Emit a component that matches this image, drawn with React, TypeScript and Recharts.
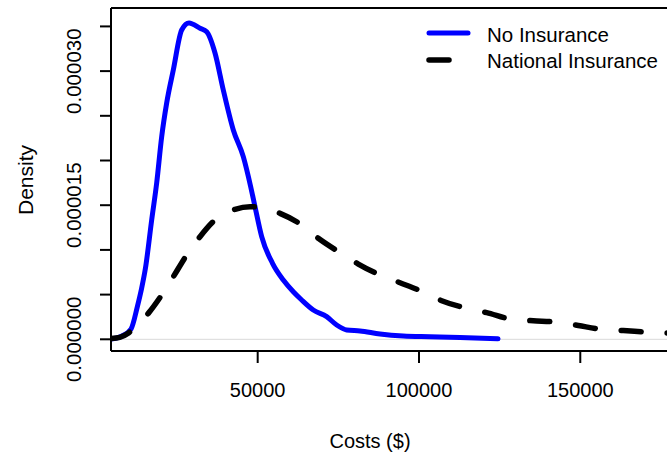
import {
  LineChart,
  Line,
  XAxis,
  YAxis,
  ReferenceLine,
} from "recharts";

// costs in $, density in units of 1e-6
const noInsX = [
  4530, 7800, 10730, 12740, 13980, 15220, 17140, 18690, 20240, 21790, 23840,
  26440, 28710, 32120, 34190, 36770, 39340, 42440, 45540, 47830, 49170, 51240,
  54600, 57940, 61040, 63640, 67240, 71390, 74490, 77590, 81720, 87920, 95140,
  103420, 112700, 124500,
];
const noInsY = [
  0.02, 0.35, 1.15, 3.72, 5.63, 7.98, 13.35, 17.48, 22.66, 26.43, 30.12, 34.6,
  35.38, 34.79, 34.41, 32.03, 27.89, 23.42, 20.43, 17.07, 14.83, 11.48, 8.5,
  6.63, 5.32, 4.4, 3.28, 2.53, 1.6, 1.04, 0.93, 0.59, 0.37, 0.29, 0.2, 0.05,
];

const natInsX = [
  4530, 7260, 9840, 11080, 16090, 20240, 23840, 27990, 32120, 36770, 42970,
  47620, 50720, 56920, 63640, 68790, 75520, 81190, 87920, 94120, 101340,
  107040, 114790, 120990, 128740, 135440, 143190, 149390, 156640, 163340,
  171620, 176890, 185000, 193000,
];
const natInsY = [
  0.1, 0.22, 0.67, 1.04, 2.9, 4.95, 7.0, 9.43, 11.48, 13.35, 14.54, 14.83,
  14.77, 14.09, 12.79, 11.3, 9.69, 8.42, 7.19, 6.33, 5.29, 4.32, 3.47, 2.98,
  2.24, 2.08, 1.9, 1.54, 1.12, 0.98, 0.78, 0.7, 0.62, 0.55,
];

const xTicks = [50000, 100000, 150000];
const yTicks = [0, 5, 10, 15, 20, 25, 30, 35];
const yLabelled = [0, 15, 30];

const noIns = noInsX.map((x, i) => ({ x, y: noInsY[i] }));
const natIns = natInsX.map((x, i) => ({ x, y: natInsY[i] }));

const FONT = "'Liberation Sans', Arial, sans-serif";
const DASH = "20 26";

const XTick = (props: any) => {
  const { x, payload } = props;
  return (
    <text
      x={x}
      y={390}
      textAnchor="middle"
      dominantBaseline="central"
      fontFamily={FONT}
      fontSize={20}
      fill="#000"
    >
      {payload.value}
    </text>
  );
};

const YTick = (props: any) => {
  const { y, payload } = props;
  if (!yLabelled.includes(payload.value)) return <g />;
  return (
    <text
      x={74}
      y={y}
      transform={`rotate(-90, 74, ${y})`}
      textAnchor="middle"
      dominantBaseline="central"
      fontFamily={FONT}
      fontSize={20.5}
      fill="#000"
    >
      {(payload.value * 1e-6).toFixed(6)}
    </text>
  );
};

const LegendBox = () => (
  <svg
    width={260}
    height={60}
    style={{ position: "absolute", left: 425, top: 25, overflow: "visible" }}
  >
    <line x1={4} y1={8} x2={43} y2={8} stroke="#0000ff" strokeWidth={5} strokeLinecap="round" />
    <text x={62} y={9} dominantBaseline="central" fontFamily={FONT} fontSize={20.5}>
      No Insurance
    </text>
    <line x1={4} y1={35} x2={43} y2={35} stroke="#000" strokeWidth={5.5} strokeLinecap="round" strokeDasharray={DASH} />
    <text x={62} y={35} dominantBaseline="central" fontFamily={FONT} fontSize={20.5}>
      National Insurance
    </text>
  </svg>
);

export default function App() {
  return (
    <div
      style={{
        position: "absolute",
        left: 0,
        top: 0,
        width: 667,
        height: 455,
        overflow: "hidden",
        background: "#fff",
      }}
    >
      <LineChart
        width={760}
        height={455}
        margin={{ top: 8, right: 40, bottom: 0, left: 0 }}
      >
        <XAxis
          type="number"
          dataKey="x"
          domain={[4530, 193310]}
          ticks={xTicks}
          tick={XTick}
          tickSize={12}
          height={104}
          axisLine={{ stroke: "#000", strokeWidth: 2 }}
          tickLine={{ stroke: "#000", strokeWidth: 2 }}
          allowDataOverflow
          label={() => (
            <text x={370} y={441} textAnchor="middle" dominantBaseline="central" fontFamily={FONT} fontSize={20}>
              Costs ($)
            </text>
          )}
        />
        <YAxis
          type="number"
          domain={[-1.309, 37.06]}
          ticks={yTicks}
          tick={YTick}
          tickSize={11}
          width={111}
          axisLine={{ stroke: "#000", strokeWidth: 2 }}
          tickLine={{ stroke: "#000", strokeWidth: 2 }}
          allowDataOverflow
          label={() => (
            <text x={25} y={180} transform="rotate(-90, 25, 180)" textAnchor="middle" dominantBaseline="central" fontFamily={FONT} fontSize={21}>
              Density
            </text>
          )}
        />
        <ReferenceLine y={0} stroke="#d9d9d9" strokeWidth={1} />
        <ReferenceLine y={37.06} stroke="#000" strokeWidth={2} />
        <Line
          data={noIns}
          dataKey="y"
          type="monotone"
          stroke="#0000ff"
          strokeWidth={5}
          strokeLinecap="round"
          strokeLinejoin="round"
          dot={false}
          isAnimationActive={false}
        />
        <Line
          data={natIns}
          dataKey="y"
          type="monotone"
          stroke="#000"
          strokeWidth={5.5}
          strokeDasharray={DASH}
          strokeLinecap="round"
          strokeLinejoin="round"
          dot={false}
          isAnimationActive={false}
        />
      </LineChart>
      <LegendBox />
    </div>
  );
}
